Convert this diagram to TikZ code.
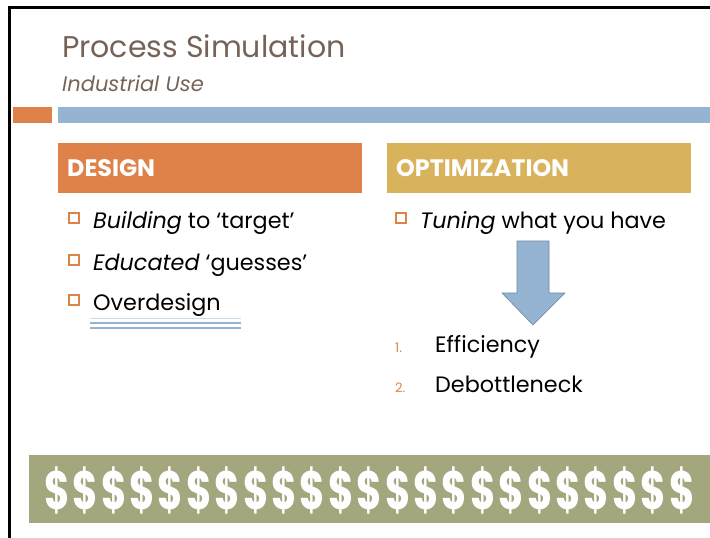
\documentclass[tikz,border=0pt]{standalone}
\usepackage{fontspec}
\setmainfont{Poppins}
\newfontfamily\dfont{Poppins}[FakeStretch=0.72]
\definecolor{brwn}{RGB}{118,99,88}
\definecolor{orng}{RGB}{222,130,74}
\definecolor{gold}{RGB}{217,178,92}
\definecolor{blu}{RGB}{148,180,210}
\definecolor{grn}{RGB}{164,167,126}
\def\fs#1{\fontsize{#1}{#1}\selectfont}

\begin{document}
\begin{tikzpicture}[x=1pt,y=-1pt,
  head/.style={anchor=north west, inner xsep=9pt, text width=286pt, minimum height=50pt, align=left, text=white, font=\fs{23.8}\bfseries},
  item/.style={anchor=base west, inner sep=0pt, font=\fs{22.3}},
  bul/.style={draw=orng, line width=1.2pt, minimum size=10pt, inner sep=0pt},
  num/.style={anchor=base west, inner sep=0pt, text=orng, font=\fs{13}},
  dollar/.style={inner sep=0pt, text=white, font=\dfont\fs{54}\bfseries}]
\useasboundingbox (0,0) rectangle (710,538);
% frame
\draw[line width=3pt] (9.5,538) -- (9.5,7) -- (710,7);

% title
\node[anchor=base west, inner sep=0pt, text=brwn, font=\fs{30}] (title) at (62,57) {Process Simulation};
\node[anchor=base west, inner sep=0pt, text=brwn, font=\fs{21}\itshape] (sub) at (62,91) {Industrial Use};
\fill[orng] (13,107) rectangle (52,123);
\fill[blu] (58,107) rectangle (710,123);

% headers
\node[head, fill=orng] (design) at (58,143) {DESIGN};
\node[head, fill=gold] (optim) at (387,143) {OPTIMIZATION};

% left column
\node[bul] (b1) at (74,218) {};
\node[bul] (b2) at (74,260) {};
\node[bul] (b3) at (74,300) {};
\node[item] (t1) at (93,228) {\textit{Building} to ‘target’};
\node[item] (t2) at (93,270) {\textit{Educated} ‘guesses’};
\node[item] (t3) at (93,310) {Overdesign};
\draw[blu!50, line width=0.8pt] (90,318) -- (241,318);
\draw[blu, line width=1.2pt] (90,323) -- (241,323);
\draw[blu, line width=2pt] (90,328) -- (241,328);

% right column
\node[bul] (b4) at (401,218) {};
\node[item] (t4) at (420,228) {\textit{Tuning} what you have};
\filldraw[fill=blu, draw=blu!75!black, line width=0.6pt]
  (517,241) -- (549,241) -- (549,293) -- (565,293) -- (533,325) -- (502,293) -- (517,293) -- cycle;
\node[num] (n1) at (395,352) {1.};
\node[item] (e1) at (435,352) {Efficiency};
\node[num] (n2) at (395,392) {2.};
\node[item] (e2) at (435,392) {Debottleneck};

% money
\node[fill=grn, anchor=north west, minimum width=681pt, minimum height=68pt, inner sep=0pt] (money) at (29,455) {};
\foreach \i in {0,...,22}{
  \node[dollar] (d\i) at (57+28.4*\i,490) {\$};
}
\end{tikzpicture}
\end{document}
